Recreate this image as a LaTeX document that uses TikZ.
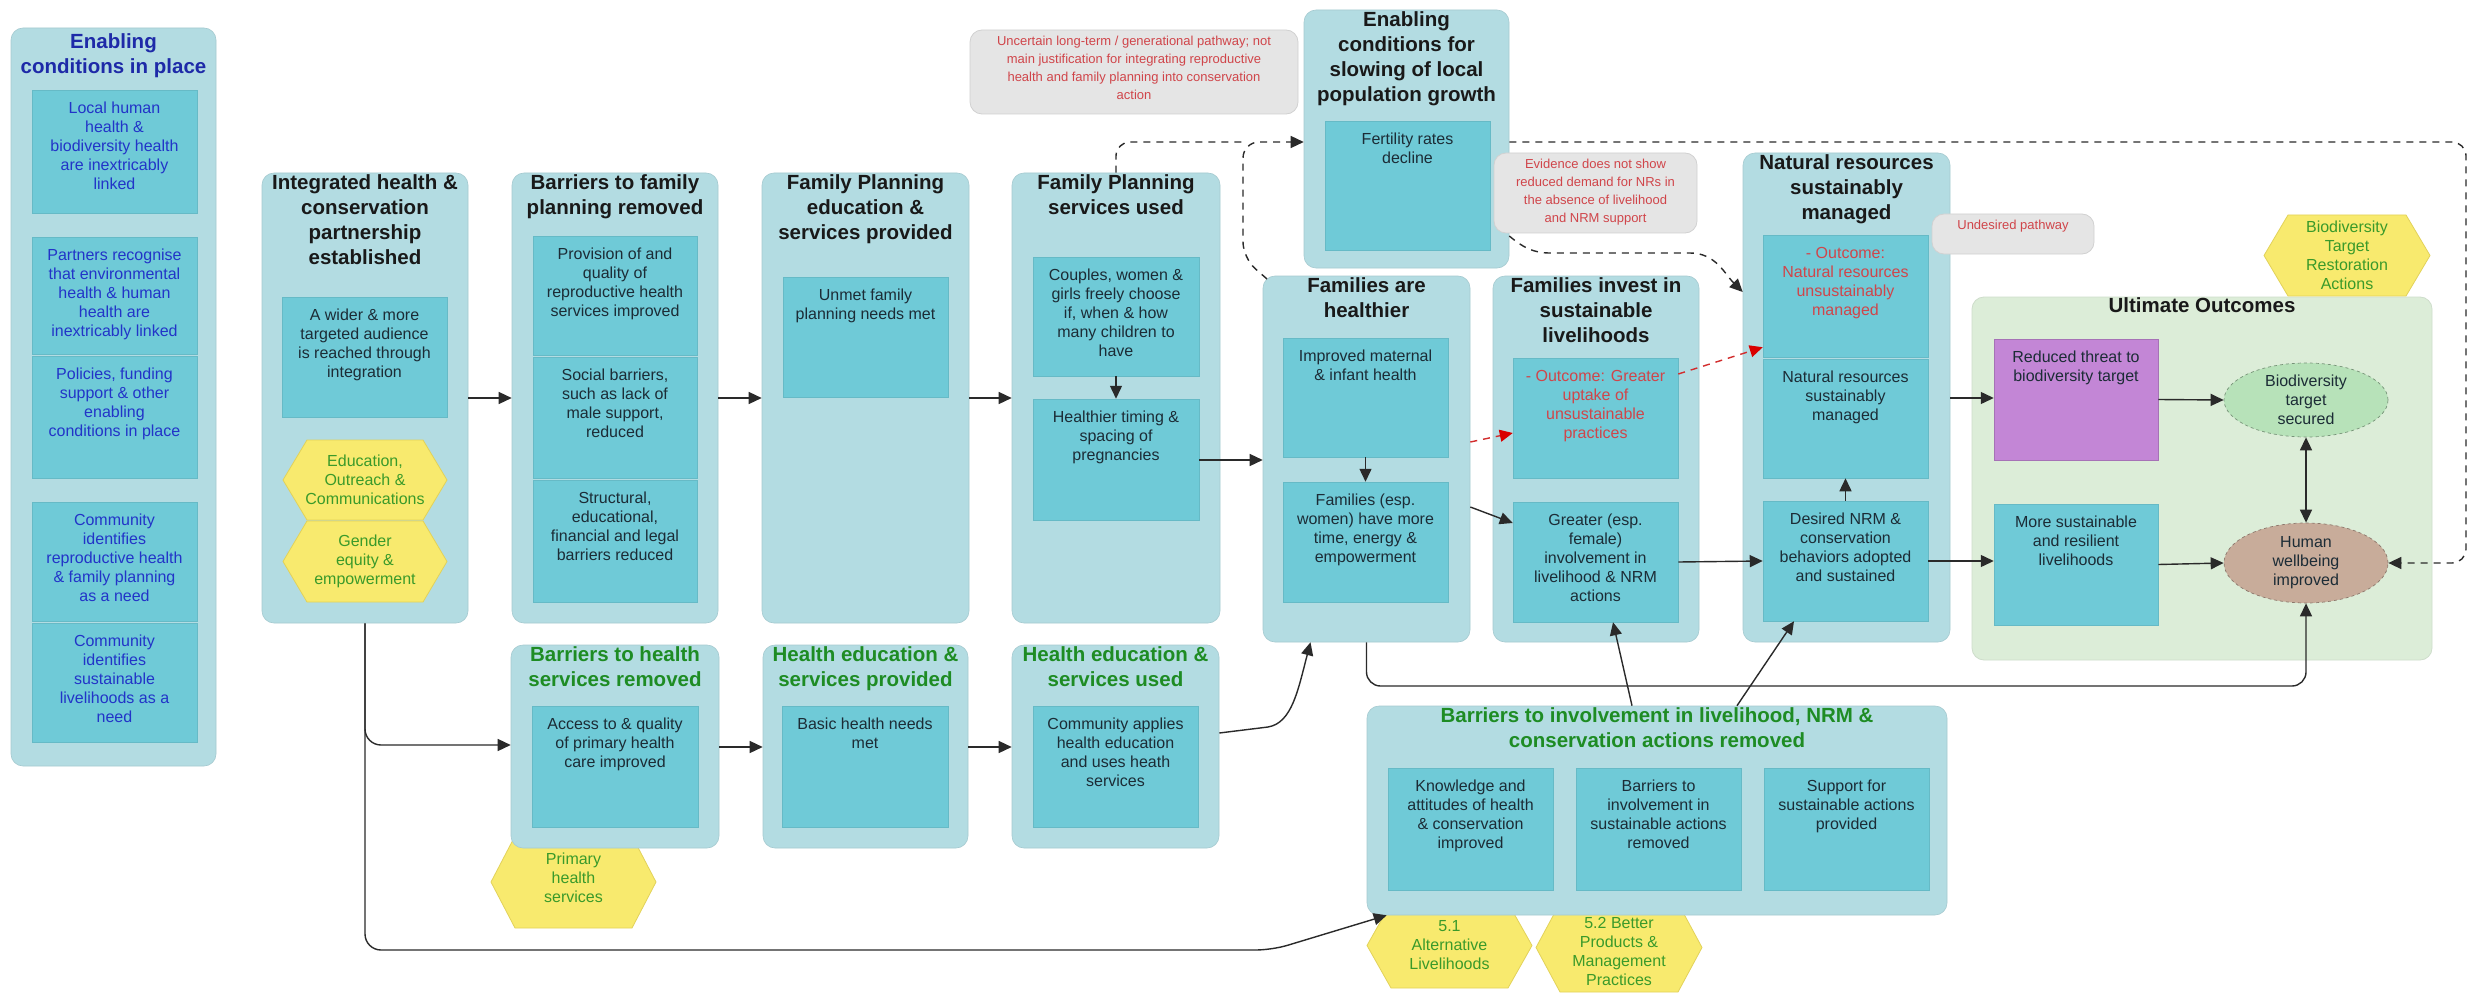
\documentclass[tikz,border=0pt]{standalone}
\usepackage{fontspec}
\setmainfont{Liberation Sans}
\usetikzlibrary{arrows.meta,calc,fit,shapes.geometric}
\definecolor{outc}{HTML}{B3DCE2}
\definecolor{inc}{HTML}{6FCAD7}
\definecolor{notec}{HTML}{E5E5E5}
\definecolor{hexc}{HTML}{F8EA6E}
\definecolor{hexb}{HTML}{E2D25A}
\definecolor{grn}{HTML}{1E8C24}
\definecolor{hgrn}{HTML}{3A9A2A}
\definecolor{blu}{HTML}{1E2AA8}
\definecolor{blut}{HTML}{2234C8}
\definecolor{redt}{HTML}{D0454A}
\definecolor{uoc}{HTML}{DCEDD8}
\definecolor{purp}{HTML}{C386D6}
\definecolor{btsc}{HTML}{B7E2B9}
\definecolor{hwc}{HTML}{C8AC9A}
\definecolor{dtext}{HTML}{1C2C36}
\definecolor{linec}{HTML}{2A2A2A}
\tikzset{
 obox/.style={fill=outc, draw=outc!92!black, line width=0.6pt, rounded corners=12pt, inner sep=0pt},
 inbox/.style={fill=inc, draw=inc!92!black, line width=0.5pt, inner sep=0pt},
 ttl/.style={font=\fontsize{20.5}{25}\selectfont\bfseries, align=center, inner sep=2pt, text=black!90},
 body/.style={font=\fontsize{16}{19}\selectfont, align=center, inner sep=0pt, text=dtext},
 notetxt/.style={font=\fontsize{13}{18}\selectfont, align=center, inner sep=0pt, text=redt},
 notebox/.style={fill=notec, draw=black!18, line width=0.8pt, rounded corners=12pt, inner sep=0pt},
 hexs/.style={fill=hexc, draw=hexb, line width=0.8pt},
 hext/.style={font=\fontsize{16}{19}\selectfont, align=center, text=hgrn, inner sep=0pt},
 arr/.style={draw=linec, line width=1.4pt, -{Triangle[length=13pt,width=12pt]}},
 arrtwo/.style={draw=linec, line width=1.4pt, {Triangle[length=13pt,width=12pt]}-{Triangle[length=13pt,width=12pt]}},
 darr/.style={arr, dash pattern=on 7pt off 6pt},
 dln/.style={draw=linec, line width=1.4pt, dash pattern=on 7pt off 6pt},
 rarr/.style={draw=red!65!gray, line width=1.4pt, dash pattern=on 7pt off 6pt, -{Triangle[length=13pt,width=12pt,color=red!85!black]}}
}
\newcommand\OB[5]{\node[obox, fit={(#2,#3) (#4,#5)}] (#1) {};}
\newcommand\IB[7][dtext]{\node[inbox, fit={(#3,#4) (#5,#6)}] (#2) {};
 \node[body, text=#1, anchor=north] (#2-x) at ([yshift=-12pt]#2.north) {#7};}
\newcommand\HX[6]{\filldraw[hexs] (#2,{(#3+#5)/2}) -- ({#2+24},#3) -- ({#4-24},#3) -- (#4,{(#3+#5)/2}) -- ({#4-24},#5) -- ({#2+24},#5) -- cycle;
 \node[hext] (#1) at ({(#2+#4)/2},{(#3+#5)/2}) {#6};}
\newcommand\NT[6]{\node[notebox, fit={(#2,#3) (#4,#5)}] (#1) {};
 \node[notetxt, anchor=north] (#1-x) at ([yshift=-6pt]#1.north) {#6};}
\begin{document}
\begin{tikzpicture}[x={(1pt,0)}, y={(0,-1pt)}]
\useasboundingbox (0,0) rectangle (2476,995);
\fill[white] (0,0) rectangle (2476,995);

% ---------- left column
\OB{ecp}{11}{28}{216}{766}
\node[ttl, text=blu, anchor=north] (ecp-t) at ([yshift=-4pt]ecp.north) {Enabling\\conditions in place};
\IB[blut]{e1}{32}{90}{197}{213}{Local human\\health \&\\biodiversity health\\are inextricably\\linked}
\IB[blut]{e2}{32}{237}{197}{354}{Partners recognise\\that environmental\\health \& human\\health are\\inextricably linked}
\IB[blut]{e3}{32}{356}{197}{478}{Policies, funding\\support \& other\\enabling\\conditions in place}
\IB[blut]{e4}{32}{502}{197}{621}{Community\\identifies\\reproductive health\\\& family planning\\as a need}
\IB[blut]{e5}{32}{623}{197}{742}{Community\\identifies\\sustainable\\livelihoods as a\\need}

% ---------- integrated partnership
\OB{ihc}{262}{173}{468}{623}
\node[ttl, anchor=north] (ihc-t) at (ihc.north) {Integrated health \&\\conservation\\partnership\\established};
\IB{ihc1}{282}{297}{447}{417}{A wider \& more\\targeted audience\\is reached through\\integration}
\HX{hx1}{283}{440}{447}{520}{Education,\\Outreach \&\\Communications}
\HX{hx2}{283}{521}{447}{602}{Gender\\equity \&\\empowerment}

% ---------- family planning row
\OB{bfp}{512}{173}{718}{623}
\node[ttl, anchor=north] (bfp-t) at (bfp.north) {Barriers to family\\planning removed};
\IB{bfp1}{533}{236}{697}{355}{Provision of and\\quality of\\reproductive health\\services improved}
\IB{bfp2}{533}{357}{697}{478}{Social barriers,\\such as lack of\\male support,\\reduced}
\IB{bfp3}{533}{480}{697}{602}{Structural,\\educational,\\financial and legal\\barriers reduced}

\OB{fpe}{762}{173}{969}{623}
\node[ttl, anchor=north] (fpe-t) at (fpe.north) {Family Planning\\education \&\\services provided};
\IB{fpe1}{783}{277}{948}{397}{Unmet family\\planning needs met}

\OB{fpu}{1012}{173}{1220}{623}
\node[ttl, anchor=north] (fpu-t) at (fpu.north) {Family Planning\\services used};
\IB{fpu1}{1033}{257}{1199}{376}{Couples, women \&\\girls freely choose\\if, when \& how\\many children to\\have}
\IB{fpu2}{1033}{399}{1199}{520}{Healthier timing \&\\spacing of\\pregnancies}

% ---------- enabling conditions for slowing
\OB{ecs}{1304}{10}{1509}{268}
\node[ttl, anchor=north] (ecs-t) at (ecs.north) {Enabling\\conditions for\\slowing of local\\population growth};
\IB{ecs1}{1325}{121}{1490}{250}{Fertility rates\\decline}
\NT{n1}{970}{30}{1298}{114}{Uncertain long-term / generational pathway; not\\main justification for integrating reproductive\\health and family planning into conservation\\action}

% ---------- families
\OB{fah}{1263}{276}{1470}{642}
\node[ttl, anchor=north] (fah-t) at (fah.north) {Families are\\healthier};
\IB{fah1}{1283}{338}{1448}{457}{Improved maternal\\\& infant health}
\IB{fah2}{1283}{482}{1448}{602}{Families (esp.\\women) have more\\time, energy \&\\empowerment}

\OB{fis}{1493}{276}{1699}{642}
\node[ttl, anchor=north] (fis-t) at (fis.north) {Families invest in\\sustainable\\livelihoods};
\IB[redt]{fis1}{1513}{358}{1678}{478}{- Outcome: Greater\\uptake of\\unsustainable\\practices}
\IB{fis2}{1513}{502}{1678}{622}{Greater (esp.\\female)\\involvement in\\livelihood \& NRM\\actions}

\OB{nrs}{1743}{153}{1950}{642}
\node[ttl, anchor=north] (nrs-t) at (nrs.north) {Natural resources\\sustainably\\managed};
\IB[redt]{nrs1}{1763}{235}{1928}{357}{- Outcome:\\Natural resources\\unsustainably\\managed}
\IB{nrs2}{1763}{359}{1928}{478}{Natural resources\\sustainably\\managed}
\IB{nrs3}{1763}{501}{1928}{621}{Desired NRM \&\\conservation\\behaviors adopted\\and sustained}

\NT{n2}{1494}{153}{1697}{233}{Evidence does not show\\reduced demand for NRs in\\the absence of livelihood\\and NRM support}
\NT{n3}{1932}{214}{2094}{254}{Undesired pathway}

% ---------- ultimate outcomes
\node[fill=uoc, draw=uoc!85!gray, line width=0.8pt, rounded corners=12pt, inner sep=0pt, fit={(1972,297) (2432,660)}] (uo) {};
\node[ttl, anchor=north] (uo-t) at ([yshift=1pt]uo.north) {Ultimate Outcomes};
\HX{hxb}{2264}{215}{2430}{296}{Biodiversity\\Target\\Restoration\\Actions}
\node[fill=purp, draw=purp!85!black, line width=0.5pt, inner sep=0pt, fit={(1994,339) (2158,460)}] (rtb) {};
\node[body, anchor=north] (rtb-x) at ([yshift=-12pt]rtb.north) {Reduced threat to\\biodiversity target};
\IB{msl}{1994}{504}{2158}{625}{More sustainable\\and resilient\\livelihoods}
\node[ellipse, fill=btsc, draw=btsc!65!black, dashed, line width=0.7pt, minimum width=164pt, minimum height=74pt, inner sep=0pt] (bts) at (2306,400) {};
\node[body] (bts-x) at (bts) {Biodiversity\\target\\secured};
\node[ellipse, fill=hwc, draw=hwc!70!black, dashed, line width=0.7pt, minimum width=164pt, minimum height=80pt, inner sep=0pt] (hw) at (2306,563) {};
\node[body] (hw-x) at (hw) {Human\\wellbeing\\improved};

% ---------- health row (hexagon behind box)
\HX{hxp}{491}{836}{656}{928}{}
\OB{bhs}{511}{645}{719}{848}
\node[hext] (hxp-x) at ([yshift=4pt]hxp) {Primary\\health\\services};
\node[ttl, text=grn, anchor=north] (bhs-t) at (bhs.north) {Barriers to health\\services removed};
\IB{bhs1}{532}{706}{698}{827}{Access to \& quality\\of primary health\\care improved}
\OB{hep}{763}{645}{968}{848}
\node[ttl, text=grn, anchor=north] (hep-t) at (hep.north) {Health education \&\\services provided};
\IB{hep1}{782}{706}{948}{827}{Basic health needs\\met}
\OB{heu}{1012}{645}{1219}{848}
\node[ttl, text=grn, anchor=north] (heu-t) at (heu.north) {Health education \&\\services used};
\IB{heu1}{1033}{706}{1198}{827}{Community applies\\health education\\and uses heath\\services}

% ---------- barriers to involvement (hexagons behind box)
\HX{hx51}{1367}{903}{1532}{988}{}
\HX{hx52}{1536}{903}{1702}{992}{}
\OB{bil}{1367}{706}{1947}{915}
\node[ttl, text=grn, anchor=north] (bil-t) at (bil.north) {Barriers to involvement in livelihood, NRM \&\\conservation actions removed};
\IB{bil1}{1388}{768}{1553}{890}{Knowledge and\\attitudes of health\\\& conservation\\improved}
\IB{bil2}{1576}{768}{1741}{890}{Barriers to\\involvement in\\sustainable actions\\removed}
\IB{bil3}{1764}{768}{1929}{890}{Support for\\sustainable actions\\provided}
\node[hext] (hx51-x) at (hx51) {5.1\\Alternative\\Livelihoods};
\node[hext] (hx52-x) at ([yshift=-4pt]hx52) {5.2 Better\\Products \&\\Management\\Practices};

% ---------- connectors
\draw[arr] (ihc.east |- 0,398) -- (bfp.west |- 0,398);
\draw[arr] (bfp.east |- 0,398) -- (fpe.west |- 0,398);
\draw[arr] (fpe.east |- 0,398) -- (fpu.west |- 0,398);
\draw[arr] (fpu1.south) -- (fpu2.north);
\draw[arr] (fpu2.east |- 0,460) -- (fah.west |- 0,460);
\draw[arr] (fah1.south) -- (fah2.north);
\draw[arr] (fah.east |- 0,507) -- (fis2.west |- 0,523);
\draw[rarr] (fah.east |- 0,442) -- (fis1.west |- 0,433);
\draw[rarr] (fis1.east |- 0,374) -- ([yshift=10pt]nrs1.south west);
\draw[arr] (fis2.east) -- (nrs3.west);
\draw[arr] (nrs3.north) -- (nrs2.south);
\draw[arr] (nrs.east |- 0,398) -- (rtb.west |- 0,398);
\draw[arr] (nrs3.east) -- (msl.west |- nrs3.east);
\draw[arr] (rtb.east) -- (bts.west);
\draw[arr] (msl.east) -- (hw.west);
\draw[arrtwo] (bts.south) -- (hw.north);

\coordinate (jn) at (1243,142);
\draw[dln, rounded corners=14pt] (fpu.north) -- (fpu.north |- jn) -- (jn);
\draw[darr, rounded corners=16pt] (1267,279) -- (1243,258) -- (jn) -- (ecs.west |- jn);
\draw[darr, rounded corners=14pt] (ecs.east |- jn) -- (2466,142) -- (2466,563) -- (hw.east);
\draw[darr] (ecs.east |- 0,236) to[out=-40,in=180] (1550,253) -- (1690,253) to[out=0,in=135] (nrs.west |- 0,292);

\draw[arr] (heu.east |- 0,733) -- (1268,727) .. controls (1292,723) and (1298,690) .. ([xshift=-56pt]fah.south);
\draw[arr, rounded corners=14pt] (fah.south) |- (hw.south |- 0,686) -- (hw.south);
\draw[arr, rounded corners=16pt] (ihc.south) |- (bhs.west |- 0,745);
\draw[arr, rounded corners=16pt] (ihc.south) -- (ihc.south |- 0,950) -- (1272,950) -- ([xshift=20pt]bil.south west);
\draw[arr] (bhs.east |- 0,747) -- (hep.west |- 0,747);
\draw[arr] (hep.east |- 0,747) -- (heu.west |- 0,747);
\draw[arr] (bil.north -| 1632,0) -- (fis2.south -| 1613,0);
\draw[arr] (bil.north -| 1737,0) -- (nrs3.south -| 1794,0);
\end{tikzpicture}
\end{document}
